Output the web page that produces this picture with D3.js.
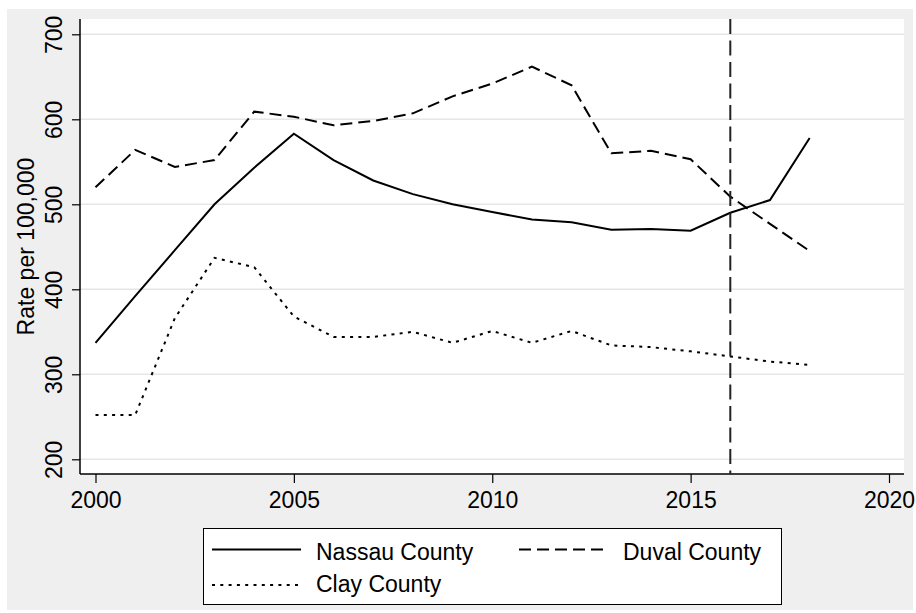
<!DOCTYPE html>
<html>
<head>
<meta charset="utf-8">
<script src="https://cdn.jsdelivr.net/npm/d3@7"></script>
<style>
  body { margin: 0; background: #fff; }
  svg { display: block; font-family: "Liberation Sans", Arial, Helvetica, sans-serif; }
</style>
</head>
<body>
<svg width="916" height="613"></svg>
<script>
// Data
var years = [2000, 2001, 2002, 2003, 2004, 2005, 2006, 2007, 2008, 2009,
             2010, 2011, 2012, 2013, 2014, 2015, 2016, 2017, 2018];
var nassau = [337, 392, 446, 500, 543, 583, 552, 528, 512, 500,
              491, 482, 479, 470, 471, 469, 490, 505, 578];
var duval = [520, 564, 544, 552, 609, 603, 593, 598, 607, 627,
             642, 662, 640, 560, 563, 553, 509, 477, 445];
var clay = [252, 252, 366, 437, 426, 368, 344, 344, 350, 337,
            351, 337, 351, 334, 332, 327, 321, 315, 311];
var xTicks = [2000, 2005, 2010, 2015, 2020];
var yTicks = [200, 300, 400, 500, 600, 700];
var markerYear = 2016;
var seriesNames = ["Nassau County", "Duval County", "Clay County"];

var svg = d3.select("svg");

// Outer gray graph region and white plot region
var plotLeft = 80, plotRight = 904, plotTop = 19, plotBottom = 474;
svg.append("rect")
  .attr("x", 7).attr("y", 9)
  .attr("width", 906).attr("height", 601)
  .attr("fill", "#efefef");
svg.append("rect")
  .attr("x", plotLeft).attr("y", plotTop)
  .attr("width", plotRight - plotLeft).attr("height", plotBottom - plotTop)
  .attr("fill", "#ffffff");

// Scales
var x = d3.scaleLinear().domain([2000, 2020]).range([95.5, 889]);
var y = d3.scaleLinear().domain([200, 700]).range([459.3, 34.3]);

// Grid lines
svg.selectAll(".grid")
  .data(yTicks)
  .enter().append("line")
  .attr("class", "grid")
  .attr("x1", plotLeft).attr("x2", plotRight)
  .attr("y1", d => y(d)).attr("y2", d => y(d))
  .attr("stroke", "#e6e6e6")
  .attr("stroke-width", 1.5);

// Y axis
var yAxis = svg.append("g")
  .attr("transform", "translate(" + plotLeft + ",0)")
  .call(d3.axisLeft(y).tickValues(yTicks).tickSize(8).tickSizeOuter(0));
yAxis.select(".domain").remove();
yAxis.selectAll(".tick line").attr("stroke", "#000").attr("stroke-width", 1.2);
yAxis.selectAll(".tick text")
  .attr("x", null).attr("dy", null)
  .attr("transform", "translate(-18.5,0) rotate(-90)")
  .attr("text-anchor", "middle")
  .style("font-size", "23px")
  .attr("fill", "#000");

// X axis
var xAxis = svg.append("g")
  .attr("transform", "translate(0," + plotBottom + ")")
  .call(d3.axisBottom(x).tickValues(xTicks).tickFormat(d3.format("d")).tickSize(9).tickSizeOuter(0));
xAxis.select(".domain").remove();
xAxis.selectAll(".tick line").attr("stroke", "#000").attr("stroke-width", 1.2);
xAxis.selectAll(".tick text")
  .attr("y", 34).attr("dy", null)
  .style("font-size", "23px")
  .attr("fill", "#000");

// Axis lines
svg.append("line")
  .attr("x1", plotLeft).attr("x2", plotLeft)
  .attr("y1", plotTop).attr("y2", plotBottom)
  .attr("stroke", "#000").attr("stroke-width", 1.5);
svg.append("line")
  .attr("x1", plotLeft).attr("x2", plotRight)
  .attr("y1", plotBottom).attr("y2", plotBottom)
  .attr("stroke", "#000").attr("stroke-width", 1.5);

// Y axis title
svg.append("text")
  .attr("transform", "translate(33.5," + ((plotTop + plotBottom) / 2) + ") rotate(-90)")
  .attr("text-anchor", "middle")
  .style("font-size", "23px")
  .text("Rate per 100,000");

// Series lines
var dashes = [null, "12,6", "3,5.3"];
var series = [nassau, duval, clay];
var line = d3.line()
  .x((d, i) => x(years[i]))
  .y(d => y(d));

svg.selectAll(".series")
  .data(series)
  .enter().append("path")
  .attr("class", "series")
  .attr("d", d => line(d))
  .attr("fill", "none")
  .attr("stroke", "#000")
  .attr("stroke-width", 2)
  .attr("stroke-dasharray", (d, i) => dashes[i]);

// Vertical reference line
svg.append("line")
  .attr("x1", x(markerYear)).attr("x2", x(markerYear))
  .attr("y1", plotTop).attr("y2", plotBottom)
  .attr("stroke", "#222")
  .attr("stroke-width", 2)
  .attr("stroke-dasharray", "15,6.5");

// Legend
svg.append("rect")
  .attr("x", 203.5).attr("y", 528.5)
  .attr("width", 578).attr("height", 76)
  .attr("fill", "#fff")
  .attr("stroke", "#000")
  .attr("stroke-width", 1);

var legendItems = [
  { x1: 212, x2: 301, y: 549.5, tx: 316, ty: 560 },
  { x1: 519, x2: 608, y: 549.5, tx: 623, ty: 560 },
  { x1: 212, x2: 301, y: 585, tx: 316, ty: 592 }
];

var legend = svg.selectAll(".legendItem")
  .data(legendItems)
  .enter().append("g")
  .attr("class", "legendItem");

legend.append("line")
  .attr("x1", d => d.x1).attr("x2", d => d.x2)
  .attr("y1", d => d.y).attr("y2", d => d.y)
  .attr("stroke", "#000")
  .attr("stroke-width", 2)
  .attr("stroke-dasharray", (d, i) => dashes[i]);

legend.append("text")
  .attr("x", d => d.tx).attr("y", d => d.ty)
  .style("font-size", "23px")
  .text((d, i) => seriesNames[i]);
</script>
</body>
</html>
